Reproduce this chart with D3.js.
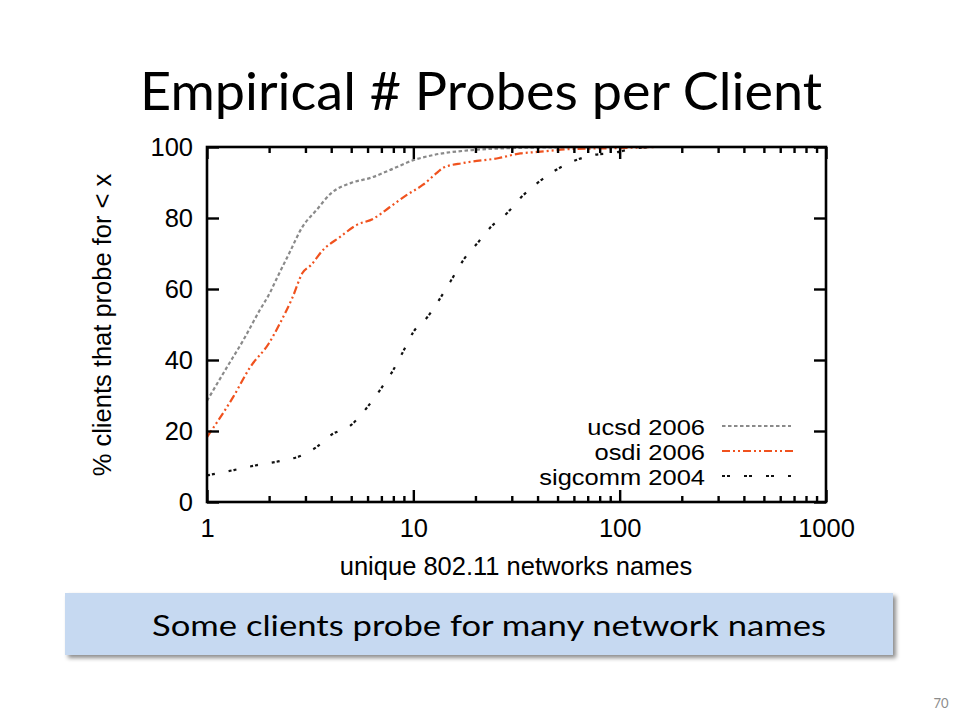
<!DOCTYPE html>
<html>
<head>
<meta charset="utf-8">
<script src="https://cdn.jsdelivr.net/npm/d3@7/dist/d3.min.js"></script>
<style>
  html, body { margin: 0; padding: 0; background: #fff; }
  svg { display: block; }
</style>
</head>
<body>
<script>
// ---- data ----
const ucsdX = [1, 1.25, 1.5, 1.8, 2, 2.2, 2.5, 2.9, 3.4, 4, 5, 6.2, 7.7, 10, 12.4, 20, 30, 50, 100, 150];
const ucsdY = [28.5, 38, 45.6, 54, 58.5, 63.5, 70, 77.5, 82.3, 87, 89.9, 91.3, 93.5, 96.3, 97.7, 99.2, 99.7, 99.9, 100, 100];

const osdiX = [1, 1.34, 1.62, 2, 2.26, 2.6, 2.9, 3.2, 3.65, 4.4, 5.3, 6.4, 7.7, 9.3, 11.1, 13, 14, 17.5, 26, 33, 40, 57, 100, 150];
const osdiY = [18.3, 29.6, 38, 44.8, 50.4, 57.7, 64.5, 66.8, 71, 74.6, 78, 79.8, 83.1, 86.5, 89.3, 92.7, 94.2, 95.5, 96.9, 98.2, 98.6, 99.4, 99.7, 100];

const sigX = [1, 1.35, 1.75, 2.25, 2.9, 3.4, 4, 5, 6, 7, 8, 9, 10, 11.7, 14, 15.6, 17.5, 20.5, 23.5, 28.5, 33, 40, 47.5, 57, 74, 93, 120, 150];
const sigY = [7.5, 9, 10.4, 11.5, 13.2, 15.5, 18.9, 21.7, 26.8, 32.1, 37.2, 42.8, 47.9, 52.1, 58.9, 63.4, 68.2, 73, 77.2, 81.4, 85.6, 89.9, 93, 95.5, 97.7, 98.3, 99.7, 100];

const seriesNames = ["ucsd 2006", "osdi 2006", "sigcomm 2004"];
const xTickValues = [1, 10, 100, 1000];
const yTickValues = [0, 20, 40, 60, 80, 100];

const titleText = "Empirical # Probes per Client";
const xLabel = "unique 802.11 networks names";
const yLabel = "% clients that probe for < x";
const calloutText = "Some clients probe for many network names";
const pageNumber = "70";

// ---- layout ----
const W = 960, H = 720;
const L = 207, R = 826, T = 147, B = 502;
const tickFont = "'Liberation Sans', Arial, Helvetica, sans-serif";
const slideFont = "Lato, 'Open Sans', sans-serif";

const svg = d3.select("body").append("svg").attr("width", W).attr("height", H);

const defs = svg.append("defs");
const f = defs.append("filter").attr("id", "shadow").attr("x", "-5%").attr("y", "-20%").attr("width", "110%").attr("height", "150%");
f.append("feDropShadow").attr("dx", 3).attr("dy", 3).attr("stdDeviation", 2).attr("flood-color", "#000").attr("flood-opacity", 0.45);

// title
svg.append("text")
  .attr("x", 481).attr("y", 110)
  .attr("text-anchor", "middle")
  .attr("font-family", slideFont).attr("font-size", 52)
  .attr("textLength", 682).attr("lengthAdjust", "spacingAndGlyphs")
  .attr("fill", "#000")
  .text(titleText);

const x = d3.scaleLog().domain([1, 1000]).range([L, R]);
const y = d3.scaleLinear().domain([0, 100]).range([B, T]);

// clip for plot
defs.append("clipPath").attr("id", "plotclip").append("rect")
  .attr("x", L).attr("y", T - 1).attr("width", R - L).attr("height", B - T + 1);

// series
const series = [
  { name: seriesNames[0], xs: ucsdX, ys: ucsdY, color: "#8a8a8a", dash: "3.5,2.5" },
  { name: seriesNames[1], xs: osdiX, ys: osdiY, color: "#f0521e", dash: "8,3,2,3,2,3" },
  { name: seriesNames[2], xs: sigX, ys: sigY, color: "#111111", dash: "3,2,3,14" }
];

const line = d3.line().x(d => x(d[0])).y(d => y(d[1])).curve(d3.curveMonotoneX);

const plot = svg.append("g").attr("clip-path", "url(#plotclip)");
series.forEach(s => {
  const pts = s.xs.map((v, i) => [v, s.ys[i]]);
  plot.append("path")
    .datum(pts)
    .attr("d", line)
    .attr("fill", "none")
    .attr("stroke", s.color)
    .attr("stroke-width", 2.2)
    .attr("stroke-dasharray", s.dash);
});

// axes (ticks inward, on all four sides)
const minorX = [];
[1, 10, 100].forEach(d => { for (let k = 2; k <= 9; k++) minorX.push(d * k); });

function styleAxis(g) {
  g.select(".domain").remove();
  g.selectAll(".tick line").attr("stroke", "#000").attr("stroke-width", 2.4);
  g.selectAll(".tick text").attr("font-family", tickFont).attr("font-size", 25.5).attr("fill", "#000");
}

// bottom major
svg.append("g").attr("transform", `translate(0,${B})`)
  .call(d3.axisBottom(x).tickValues(xTickValues).tickFormat(d3.format("d")).tickSizeInner(-12).tickSizeOuter(0).tickPadding(17))
  .call(styleAxis);
// bottom minor
svg.append("g").attr("transform", `translate(0,${B})`)
  .call(d3.axisBottom(x).tickValues(minorX).tickFormat("").tickSizeInner(-6).tickSizeOuter(0))
  .call(styleAxis);
// top major & minor
svg.append("g").attr("transform", `translate(0,${T})`)
  .call(d3.axisTop(x).tickValues(xTickValues).tickFormat("").tickSizeInner(-12).tickSizeOuter(0))
  .call(styleAxis);
svg.append("g").attr("transform", `translate(0,${T})`)
  .call(d3.axisTop(x).tickValues(minorX).tickFormat("").tickSizeInner(-6).tickSizeOuter(0))
  .call(styleAxis);
// left
svg.append("g").attr("transform", `translate(${L},0)`)
  .call(d3.axisLeft(y).tickValues(yTickValues).tickSizeInner(-12).tickSizeOuter(0).tickPadding(14))
  .call(styleAxis);
// right
svg.append("g").attr("transform", `translate(${R},0)`)
  .call(d3.axisRight(y).tickValues(yTickValues).tickFormat("").tickSizeInner(-12).tickSizeOuter(0))
  .call(styleAxis);

// frame
svg.append("rect")
  .attr("x", L).attr("y", T).attr("width", R - L).attr("height", B - T)
  .attr("fill", "none").attr("stroke", "#000").attr("stroke-width", 2.6);

// axis labels
svg.append("text")
  .attr("x", 516).attr("y", 575)
  .attr("text-anchor", "middle")
  .attr("font-family", tickFont).attr("font-size", 25.5)
  .text(xLabel);
svg.append("text")
  .attr("transform", "translate(111,325) rotate(-90)")
  .attr("text-anchor", "middle")
  .attr("font-family", tickFont).attr("font-size", 25.5)
  .text(yLabel);

// legend (slightly smaller font so rows don't collide, widened to the reference width)
const legend = svg.append("g");
const legFont = 22.2, legTarget = 25.5;
series.forEach((s, i) => {
  const by = 435 + i * 25;
  const t = legend.append("text")
    .attr("x", 705).attr("y", by)
    .attr("text-anchor", "end")
    .attr("font-family", tickFont).attr("font-size", legFont)
    .text(s.name);
  const len = t.node().getComputedTextLength();
  t.attr("textLength", len * legTarget / legFont).attr("lengthAdjust", "spacingAndGlyphs");
  legend.append("line")
    .attr("x1", 722).attr("x2", i === 1 ? 795 : 791)
    .attr("y1", by - 9).attr("y2", by - 9)
    .attr("stroke", s.color).attr("stroke-width", 2)
    .attr("stroke-dasharray", s.dash);
});

// callout box
svg.append("rect")
  .attr("x", 65).attr("y", 593).attr("width", 828).attr("height", 62)
  .attr("fill", "#c6d9f1")
  .attr("filter", "url(#shadow)");
svg.append("text")
  .attr("x", 489).attr("y", 636)
  .attr("text-anchor", "middle")
  .attr("font-family", slideFont).attr("font-size", 29)
  .attr("textLength", 674).attr("lengthAdjust", "spacingAndGlyphs")
  .attr("fill", "#000")
  .text(calloutText);

// page number
svg.append("text")
  .attr("x", 941).attr("y", 708)
  .attr("text-anchor", "middle")
  .attr("font-family", slideFont).attr("font-size", 13)
  .attr("fill", "#8c8c8c")
  .text(pageNumber);
</script>
</body>
</html>
